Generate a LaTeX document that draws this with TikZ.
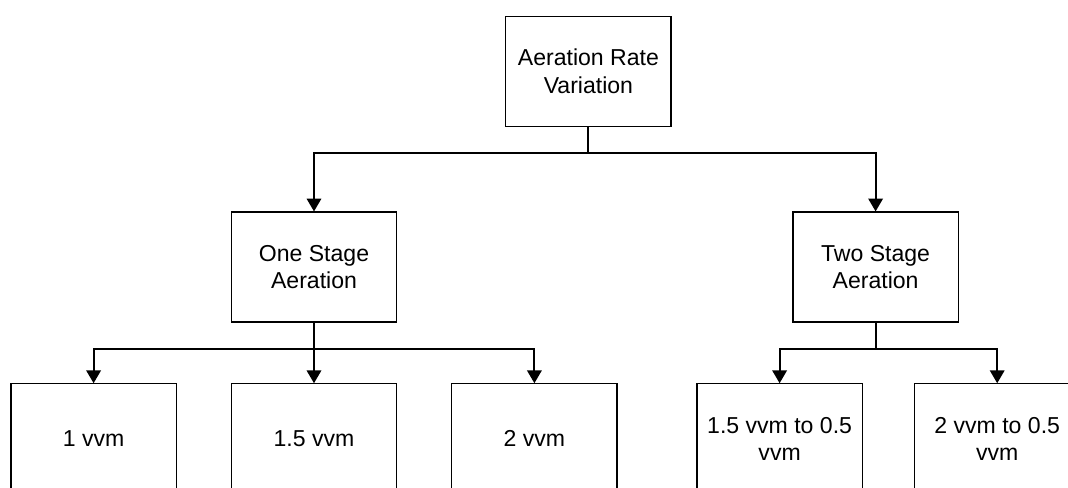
\documentclass[tikz,border=0pt]{standalone}
\usepackage{fontspec}
\setmainfont{Liberation Sans}
\usepackage{tikz}
\usetikzlibrary{arrows.meta,positioning,calc}

\begin{document}
\begin{tikzpicture}[
    block/.style={rectangle, draw, line width=0.8pt, minimum width=4.13cm, minimum height=2.75cm, align=center, inner sep=0pt, font=\fontsize{16.4}{19.7}\selectfont},
    arrow/.style={-{Triangle[length=0.32cm, width=0.36cm]}, line width=1.4pt}
]

% ── Frame (picture cut at the page edge) ──
\clip (0,0) rectangle (26.7,-12.175);

% ── Top row ──
\node[block] (rate) at (14.71, -1.79) {Aeration Rate\\Variation};

% ── Second row ──
\node[block] (onestage) at (7.85, -6.675) {One Stage\\Aeration};
\node[block] (twostage) at (21.89, -6.675) {Two Stage\\Aeration};

% ── Bottom row ──
\node[block] (one) at (2.34, -10.97) {1 vvm};
\node[block] (onehalf) at (7.85, -10.97) {1.5 vvm};
\node[block] (two) at (13.36, -10.97) {2 vvm};
\node[block] (onehalfdown) at (19.49, -10.97) {1.5 vvm to 0.5\\vvm};
\node[block] (twodown) at (24.93, -10.97) {2 vvm to 0.5\\vvm};

% ══════════════════════════════════════════════════
% ARROWS — orthogonal routing
% ══════════════════════════════════════════════════

% Rate → stages
\draw[arrow] (rate.south) -- ++(0,-0.65) -| (onestage.north);
\draw[arrow] (rate.south) -- ++(0,-0.65) -| (twostage.north);

% One stage → rates
\draw[arrow] (onestage.south) -- ++(0,-0.65) -| (one.north);
\draw[arrow] (onestage.south) -- (onehalf.north);
\draw[arrow] (onestage.south) -- ++(0,-0.65) -| (two.north);

% Two stage → rates
\draw[arrow] (twostage.south) -- ++(0,-0.65) -| (onehalfdown.north);
\draw[arrow] (twostage.south) -- ++(0,-0.65) -| (twodown.north);

\end{tikzpicture}
\end{document}
